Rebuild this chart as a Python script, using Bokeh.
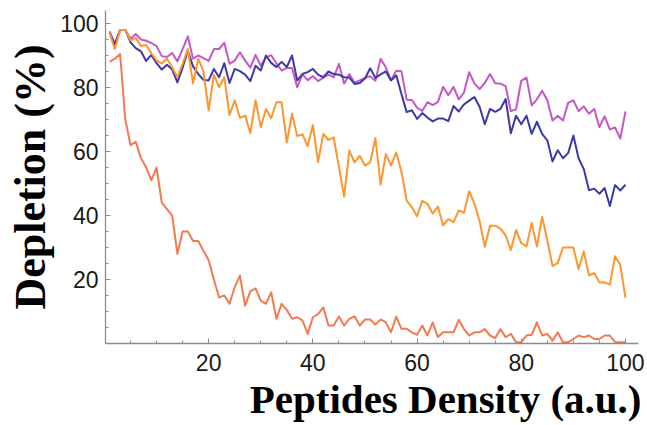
from bokeh.plotting import figure
from bokeh.models import Range1d, FixedTicker, Title
from bokeh.embed import file_html
from bokeh.resources import INLINE

x = list(range(1, 101))

magenta = [97.5, 93.5, 98, 98, 95.2, 96.7, 95, 94.6, 93.9, 92.9,
           89.8, 89.5, 90.8, 88.2, 92, 96, 89, 90, 89.2, 88.3,
           92, 92, 94, 87.4, 88.4, 91, 88.4, 86.2, 90.2, 86.8,
           89.4, 90.1, 87.6, 85.3, 86.1, 86.1, 80.1, 84.1, 82.3, 83.6,
           82, 83.1, 84, 83.2, 87.4, 81.2, 84.2, 81.5, 82.2, 83,
           83.5, 82.1, 89, 86.3, 82.3, 85.2, 85.1, 76.2, 76.1, 73.7,
           72.7, 75.4, 74.5, 75.5, 80.2, 77.6, 80.2, 76.3, 78.4, 84.8,
           81.3, 79.5, 81.4, 84.2, 81.3, 81.2, 80.4, 72.6, 73.2, 82.1,
           83.1, 74.4, 76.3, 79, 76, 69.7, 71.2, 69.7, 75.2, 76,
           72.6, 74.1, 71.8, 73.3, 67.6, 71, 66.9, 67.5, 64, 72.5]

blue = [97, 93.5, 98, 98, 94.2, 92.3, 91.3, 88.3, 90.2, 87.6,
        85.6, 87.1, 85.6, 81.6, 86.2, 91.5, 86.6, 84.2, 82.4, 82.2,
        85.8, 83.2, 87.6, 81.4, 85.8, 85.1, 84, 82, 86.8, 85.3,
        90, 87.7, 86.4, 88, 86.4, 90, 82.2, 84.2, 84.8, 85.8,
        84, 83.2, 85, 84.2, 84, 83.2, 83.1, 81.1, 81.4, 82.8,
        86, 83, 84.1, 85, 82.2, 83.8, 78, 72.3, 72.9, 70.2,
        72, 70.6, 69.4, 70.3, 70.3, 69.5, 74.2, 72.5, 74.7, 75.9,
        77, 74, 68.5, 73.3, 72.4, 73.3, 76.4, 65.7, 71.2, 68.5,
        71.2, 65.5, 69.3, 65.5, 63.5, 56.9, 60.4, 57.9, 59.5, 65,
        57.9, 54.5, 47.9, 48.4, 46.8, 48.6, 43, 49.5, 47.8, 49.6]

orange = [97, 92, 98, 98, 94.7, 95.5, 93, 93.3, 90.7, 88.5,
          87.5, 89, 86.3, 83.2, 87.4, 92, 81.3, 89, 85, 72.8,
          84, 80.1, 83.2, 71.4, 76, 70.5, 71.2, 65.8, 76, 67.6,
          73.3, 70.4, 75.4, 75.4, 62.8, 71.8, 64.8, 65.4, 61.7, 68.2,
          56.7, 65.5, 63.6, 64.4, 55.1, 45.9, 60.3, 56.6, 58.6, 55.6,
          56.6, 64.2, 49.7, 59.2, 55.6, 59.7, 53.7, 44.6, 42.6, 39.8,
          44.6, 43.6, 40.6, 42.8, 36.9, 38.9, 37.9, 41.6, 40.8, 47.6,
          43.7, 38.3, 30.2, 36.8, 36.8, 35.9, 33.8, 29.2, 35.5, 31.4,
          30.3, 37.7, 30.3, 39.6, 32.3, 24.2, 25.2, 30, 30, 30,
          23.3, 28.8, 21.3, 22, 19.1, 19.1, 18.4, 27.3, 24.5, 14.3]

coral = [88, 89, 90.5, 70, 62, 63, 58, 55, 51, 55,
         44, 42, 40, 28, 35, 35, 32, 32, 29, 26,
         20, 14.4, 15, 12.4, 17.6, 21.2, 11.8, 16.3, 17.2, 13.4,
         12.4, 16, 7.7, 12.4, 10.5, 7.7, 8.2, 7.2, 3, 8.2,
         9.2, 11.3, 5.6, 5.6, 8.4, 5.6, 7.7, 8.5, 5.6, 7.5,
         7.5, 5.9, 7.5, 6.6, 3.5, 8.4, 4.6, 4.6, 3.5, 2.7,
         5.6, 2.5, 6.6, 2, 3.5, 3.5, 3.5, 7.4, 4.5, 2.5,
         3.5, 3.5, 4.5, 2.5, 1.7, 4.5, 2, 3, 0.4, 0.4,
         2.5, 2.7, 6.6, 2.5, 3, 0.9, 3.5, 0.4, 0.4, 1.4,
         2.5, 2, 2.5, 1.4, 1.4, 2.5, 2.5, 0.4, 0.4, 0.4]

x_ticks = [20, 40, 60, 80, 100]
y_ticks = [20, 40, 60, 80, 100]
minor_ticks = list(range(5, 105, 5))

x_label = "Peptides Density (a.u.)"
y_label = "Depletion (%)"

X0, X1 = 0.2, 102.5
Y0, Y1 = 0.0, 104.06
W, H = 647, 425
BL, BR, BT, BB = 105, 9, 10, 82

p = figure(width=W, height=H, x_range=Range1d(X0, X1), y_range=Range1d(Y0, Y1),
           output_backend="svg", toolbar_location=None,
           min_border_left=BL, min_border_right=BR, min_border_top=BT, min_border_bottom=BB)
p.grid.visible = False
p.outline_line_color = None
p.background_fill_color = "white"
p.border_fill_color = "white"

p.xaxis.ticker = FixedTicker(ticks=x_ticks, minor_ticks=minor_ticks)
p.yaxis.ticker = FixedTicker(ticks=y_ticks, minor_ticks=minor_ticks)
for ax in (p.xaxis[0], p.yaxis[0]):
    ax.axis_line_color = "#8c8c8c"
    ax.axis_line_width = 1.3
    ax.major_tick_line_color = "#8c8c8c"
    ax.minor_tick_line_color = "#8c8c8c"
    ax.major_tick_in = 5
    ax.major_tick_out = 0
    ax.minor_tick_in = 3
    ax.minor_tick_out = 0
    ax.major_label_text_font = "Liberation Sans"
    ax.major_label_text_font_size = "23px"
    ax.major_label_text_color = "#1a1a1a"
p.yaxis.major_label_standoff = 7
p.xaxis.major_label_standoff = 10

colors = {"magenta": "#c458c6", "blue": "#3a3aaa", "orange": "#fb9630", "coral": "#f27a50"}
for series, name in ((magenta, "magenta"), (blue, "blue"), (orange, "orange"), (coral, "coral")):
    p.line(x, series, line_color=colors[name], line_width=2, line_join="round")

p.add_layout(Title(text=y_label, align="center", offset=34, standoff=6,
                   text_font="Liberation Serif", text_font_style="bold",
                   text_font_size="44px", text_color="black"), "left")
p.add_layout(Title(text=x_label, align="right", offset=-3, standoff=0,
                   text_font="Liberation Serif", text_font_style="bold",
                   text_font_size="41px", text_color="black"), "below")

open("out.html", "w").write(file_html(p, INLINE))
